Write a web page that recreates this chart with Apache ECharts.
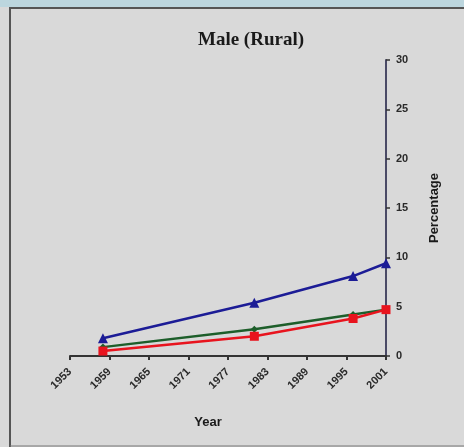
<!DOCTYPE html>
<html>
<head>
<meta charset="utf-8">
<script src="https://cdn.jsdelivr.net/npm/echarts@6/dist/echarts.min.js"></script>
<style>
html,body{margin:0;padding:0;background:#d9d9d9;}
#c{width:464px;height:447px;}
</style>
</head>
<body>
<div id="c"></div>
<script>
const years = [1958, 1981, 1996, 2001];
const blueValues = [1.8, 5.4, 8.1, 9.4];
const greenValues = [0.9, 2.7, 4.2, 4.7];
const redValues = [0.5, 2.0, 3.8, 4.7];
const xTicks = [1953, 1959, 1965, 1971, 1977, 1983, 1989, 1995, 2001];
const yTicks = [0, 5, 10, 15, 20, 25, 30];

function pairs(vals){ return years.map((y,i)=>[y, vals[i]]); }

const chart = echarts.init(document.getElementById('c'));
chart.setOption({
  backgroundColor: '#d9d9d9',
  animation: false,
  title: {
    text: 'Male (Rural)',
    left: 246, top: 26, textAlign: 'center',
    textStyle: {fontFamily: 'Liberation Serif', fontWeight: 'bold', fontSize: 19, color: '#1a1a1a'}
  },
  graphic: [
    {type: 'rect', shape: {x: 0, y: 0, width: 464, height: 7}, style: {fill: '#bcd6de'}, silent: true},
    {type: 'line', shape: {x1: 9, y1: 8, x2: 464, y2: 8}, style: {stroke: '#555', lineWidth: 2}, silent: true},
    {type: 'line', shape: {x1: 10, y1: 8, x2: 10, y2: 447}, style: {stroke: '#555', lineWidth: 2}, silent: true},
    {type: 'line', shape: {x1: 10, y1: 446, x2: 464, y2: 446}, style: {stroke: '#777', lineWidth: 1}, silent: true}
  ],
  grid: {left: 70, right: 78, top: 60, bottom: 91},
  xAxis: {
    type: 'value', min: xTicks[0], max: xTicks[xTicks.length-1], interval: 6,
    name: 'Year', nameLocation: 'middle', nameGap: 60,
    nameTextStyle: {fontFamily: 'Liberation Sans', fontWeight: 'bold', fontSize: 13, color: '#1a1a1a', padding: [0, 40, 0, 0]},
    axisLine: {lineStyle: {color: '#333', width: 2}},
    axisTick: {show: true, inside: false, length: 4, lineStyle: {color: '#333', width: 2}},
    axisLabel: {rotate: 45, margin: 14, fontFamily: 'Liberation Sans', fontWeight: 'bold', fontSize: 11, color: '#2a2a2a',
      formatter: v => String(v)},
    splitLine: {show: false}
  },
  yAxis: {
    type: 'value', position: 'right', min: yTicks[0], max: yTicks[yTicks.length-1], interval: 5,
    name: 'Percentage', nameLocation: 'middle', nameGap: 42, nameRotate: 90,
    nameTextStyle: {fontFamily: 'Liberation Sans', fontWeight: 'bold', fontSize: 13, color: '#1a1a1a'},
    axisLine: {show: true, lineStyle: {color: '#4a4a66', width: 2}},
    axisTick: {show: true, inside: false, length: 4, lineStyle: {color: '#333', width: 1.5}},
    axisLabel: {margin: 10, fontFamily: 'Liberation Sans', fontWeight: 'bold', fontSize: 11, color: '#2a2a2a'},
    splitLine: {show: false}
  },
  series: [
    {type: 'line', data: pairs(greenValues), symbol: 'diamond', symbolSize: 7,
      lineStyle: {color: '#1d5e2a', width: 2.5}, itemStyle: {color: '#1d5e2a'}, z: 2},
    {type: 'line', data: pairs(redValues), symbol: 'rect', symbolSize: 9,
      lineStyle: {color: '#e8141e', width: 2.5}, itemStyle: {color: '#e8141e'}, z: 3},
    {type: 'line', data: pairs(blueValues), symbol: 'triangle', symbolSize: 10,
      lineStyle: {color: '#1c1c96', width: 2.5}, itemStyle: {color: '#1c1c96'}, z: 4}
  ]
});
</script>
</body>
</html>
